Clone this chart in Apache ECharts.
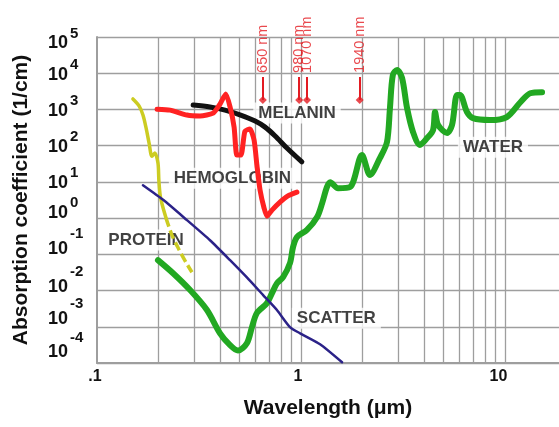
<!DOCTYPE html>
<html>
<head>
<meta charset="utf-8">
<script src="https://cdn.jsdelivr.net/npm/echarts@6/dist/echarts.min.js"></script>
<style>
  html, body { margin: 0; padding: 0; background: #fff; }
  #chart { width: 559px; height: 427px; }
</style>
</head>
<body>
<div id="chart"></div>
<script>
// Absorption coefficient of tissue constituents versus wavelength (log–log)

// ---- water ----
const waterWavelength = [0.199, 0.236, 0.286, 0.346, 0.401, 0.449, 0.491, 0.543, 0.575, 0.608,
  0.681, 0.721, 0.762, 0.817, 0.883, 0.914, 0.955, 1.07, 1.20, 1.27,
  1.34, 1.39, 1.52, 1.74, 1.99, 2.18, 2.44, 2.64, 2.73, 2.82,
  2.96, 3.13, 3.31, 3.54, 3.83, 4.15, 4.44, 4.54, 4.70, 5.20,
  5.50, 5.82, 6.02, 6.51, 6.97, 8.44, 10.2, 11.9, 13.3, 15.2];
const waterAbsorption = [0.069, 0.030, 0.0103, 0.0029, 6.6e-4, 3.1e-4, 2.2e-4, 3.5e-4, 9.8e-4, 0.0024,
  0.0045, 0.0085, 0.0158, 0.0234, 0.057, 0.158, 0.30, 0.47, 1.07, 2.6,
  7.2, 9.8, 6.7, 7.2, 55, 15.5, 46, 126, 1100, 8900,
  12300, 7400, 1100, 240, 105, 162, 270, 850, 370, 225,
  370, 2500, 2500, 850, 575, 510, 615, 1580, 2800, 3000];

// ---- hemoglobin ----
const hemoWavelength = [0.197, 0.228, 0.276, 0.320, 0.371, 0.401, 0.428, 0.449, 0.470, 0.485,
  0.508, 0.531, 0.562, 0.589, 0.608, 0.630, 0.659, 0.681, 0.721, 0.789, 0.863, 0.955];
const hemoAbsorption = [1020, 960, 700, 660, 790, 1410, 2680, 1170, 325, 55,
  55, 250, 290, 142, 29, 5.9, 1.9, 1.13, 1.66, 2.75, 4.1, 5.2];

// ---- melanin ----
const melaninWavelength = [0.296, 0.358, 0.424, 0.502, 0.596, 0.667, 0.747, 0.853, 1.01];
const melaninAbsorption = [1320, 1170, 960, 710, 480, 325, 185, 86, 35.6];

// ---- protein (measured part, then extrapolated tail) ----
const proteinWavelength = [0.150, 0.161, 0.168, 0.174, 0.180, 0.186, 0.192, 0.199, 0.201, 0.204, 0.209, 0.218];
const proteinAbsorption = [1950, 1240, 700, 310, 118, 51, 63, 33, 11.2, 4.3, 2.3, 1.0];
const proteinTailWavelength = [0.218, 0.233, 0.252, 0.273, 0.292];
const proteinTailAbsorption = [1.0, 0.34, 0.137, 0.060, 0.032];

// ---- scattering ----
const scatterWavelength = [0.168, 0.211, 0.276, 0.358, 0.449, 0.543, 0.652, 0.762, 0.883, 0.99, 1.24, 1.59];
const scatterAbsorption = [8.1, 3.2, 0.88, 0.245, 0.069, 0.023, 0.0075, 0.0029, 9.8e-4, 6.6e-4, 3.3e-4, 1.05e-4];

// ---- laser wavelengths marked at the top ----
const laserNm = [650, 980, 1070, 1940];
const laserText = ['650 nm', '980 nm', '1070 nm', '1940 nm'];

// ---- curve names and where they sit (wavelength, absorption) ----
const curveNames = ['MELANIN', 'HEMOGLOBIN', 'PROTEIN', 'SCATTER', 'WATER'];
const curveNameWavelength = [0.956, 0.461, 0.174, 1.49, 8.73];
const curveNameAbsorption = [795, 12.7, 0.247, 0.00173, 91];

// ---- axes ----
const xTickValues = [0.1, 1, 10];
const xTickText = ['.1', '1', '10'];
const yTickExponents = [5, 4, 3, 2, 1, 0, -1, -2, -3, -4];
const xGridLines = [0.2, 0.3, 0.4, 0.5, 0.6, 0.7, 0.8, 0.9, 1, 2, 3, 4, 5, 6, 7, 8, 9, 10];

// label nudges in px (negative = up / left)
const yLabelNudge = [6.5, 2, 1.7, 1, 1, -5, -5, -4, -7.5, -10.5];
const xLabelNudge = [-2, -3, -6.5];

const FONT = '"Liberation Sans", Arial, Helvetica, sans-serif';
const GRID_COLOR = '#9e9e9e';
const INK = '#111';
const LASER_RED = '#e31b22';

// rich styles for "10" with a superscript exponent
const yRich = {};
yTickExponents.forEach((e, i) => {
  const nudge = yLabelNudge[i];
  const raise = e < 0 ? 15 : 10;
  const pB = 31 + nudge;
  const pE = 32.5 + nudge - raise;
  yRich['b' + i] = { fontFamily: FONT, fontWeight: 'bold', fontSize: 18, color: INK,
    height: 18, verticalAlign: 'top', padding: [pB, 0, 80 - 18 - pB, 0] };
  yRich['e' + i] = { fontFamily: FONT, fontWeight: 'bold', fontSize: 15, color: INK,
    height: 15, verticalAlign: 'top', padding: [pE, 0, 0, 2] };
});
const xRich = {};
xTickText.forEach((t, i) => {
  xRich['x' + i] = { fontFamily: FONT, fontWeight: 'bold', fontSize: 16, color: INK,
    padding: [0, -2 * xLabelNudge[i], 0, 0] };
});

const pairs = (xs, ys) => xs.map((x, i) => [x, ys[i]]);

function curve(name, xs, ys, color, width, extra) {
  return Object.assign({
    name, type: 'line', data: pairs(xs, ys), symbol: 'none', showSymbol: false,
    smooth: 0.3, z: 3, silent: true,
    lineStyle: { color, width, cap: 'round', join: 'round' }
  }, extra || {});
}

// laser marker geometry in data units
const markerFoot = 1820, markerTop = 7850, markerTextBase = 1.02e4;

const chart = echarts.init(document.getElementById('chart'), null, { renderer: 'canvas' });
chart.setOption({
  animation: false,
  backgroundColor: '#fff',
  grid: { left: 97, top: 37, right: 0, bottom: 64, containLabel: false, outerBoundsMode: 'none' },
  xAxis: {
    type: 'log', logBase: 10, min: 0.1, max: 18.4,
    name: 'Wavelength (μm)', nameLocation: 'middle', nameGap: 35,
    nameTextStyle: { fontFamily: FONT, fontWeight: 'bold', fontSize: 21, color: INK },
    axisLine: { show: true, lineStyle: { color: GRID_COLOR, width: 2 } },
    axisTick: { show: false },
    splitLine: { show: false },
    axisLabel: {
      show: true, margin: 6, showMaxLabel: false, rich: xRich,
      formatter: v => {
        const i = xTickValues.findIndex(t => Math.abs(Math.log10(v) - Math.log10(t)) < 1e-6);
        return i < 0 ? '' : '{x' + i + '|' + xTickText[i] + '}';
      }
    }
  },
  yAxis: {
    type: 'log', logBase: 10, min: 1e-4, max: 1e5, splitNumber: 9,
    name: 'Absorption coefficient (1/cm)', nameLocation: 'middle', nameGap: 65,
    nameTextStyle: { fontFamily: FONT, fontWeight: 'bold', fontSize: 21, color: INK },
    axisLine: { show: true, lineStyle: { color: GRID_COLOR, width: 2 } },
    axisTick: { show: false },
    splitLine: { show: true, lineStyle: { color: GRID_COLOR, width: 1.3 } },
    axisLabel: {
      show: true, align: 'left', margin: 49, rich: yRich,
      formatter: v => {
        const e = Math.round(Math.log10(v));
        const i = yTickExponents.indexOf(e);
        if (i < 0) return '';
        const sup = e < 0 ? '-' + (-e) : String(e);
        return '{b' + i + '|10}{e' + i + '|' + sup + '}';
      }
    }
  },
  series: [
    // vertical grid at 2..9 of each decade
    {
      name: 'grid', type: 'line', data: [], silent: true, z: 1,
      markLine: {
        silent: true, z: 1, symbol: ['none', 'none'], label: { show: false },
        lineStyle: { color: GRID_COLOR, width: 1.3, type: 'solid' },
        emphasis: { disabled: true },
        data: xGridLines.map(v => ({ xAxis: v }))
      }
    },
    // curve names on white boxes (under the curves, over the grid)
    {
      name: 'names', type: 'scatter', z: 2, silent: true,
      symbolSize: 1, itemStyle: { color: 'rgba(0,0,0,0)' },
      data: pairs(curveNameWavelength, curveNameAbsorption),
      label: {
        show: true, position: 'inside', align: 'center', verticalAlign: 'middle',
        formatter: p => curveNames[p.dataIndex],
        fontFamily: FONT, fontWeight: 'bold', fontSize: 17, color: INK,
        backgroundColor: '#fff', padding: [2, 5]
      }
    },
    curve('Water', waterWavelength, waterAbsorption, '#22a822', 6),
    curve('Protein', proteinWavelength, proteinAbsorption, '#cccc22', 3.5),
    curve('Protein tail', proteinTailWavelength, proteinTailAbsorption, '#cccc22', 3.5,
      { lineStyle: { color: '#cccc22', width: 3.5, type: [9, 4], cap: 'butt' } }),
    curve('Melanin', melaninWavelength, melaninAbsorption, '#111111', 5),
    curve('Hemoglobin', hemoWavelength, hemoAbsorption, '#ff2222', 5, { smooth: 0.2 }),
    curve('Scatter', scatterWavelength, scatterAbsorption, '#2b2288', 2.5, { smooth: 0.2 }),
    // laser wavelength markers
    {
      name: 'laser', type: 'scatter', z: 4, silent: true,
      symbol: 'diamond', symbolSize: 8, itemStyle: { color: LASER_RED },
      data: laserNm.map(nm => [nm / 1000, markerFoot]),
      markLine: {
        silent: true, symbol: ['none', 'none'], label: { show: false },
        lineStyle: { color: LASER_RED, width: 2, type: 'solid' },
        emphasis: { disabled: true },
        data: laserNm.map(nm => [{ coord: [nm / 1000, markerFoot] }, { coord: [nm / 1000, markerTop] }])
      }
    },
    {
      name: 'laser text', type: 'scatter', z: 4, silent: true,
      symbolSize: 1, itemStyle: { color: 'rgba(0,0,0,0)' },
      data: laserNm.map(nm => [nm / 1000, markerTextBase]),
      label: {
        show: true, position: 'inside', rotate: 90, align: 'left', verticalAlign: 'middle',
        formatter: p => laserText[p.dataIndex],
        fontFamily: FONT, fontSize: 14.5, color: LASER_RED
      }
    }
  ]
});
</script>
</body>
</html>
